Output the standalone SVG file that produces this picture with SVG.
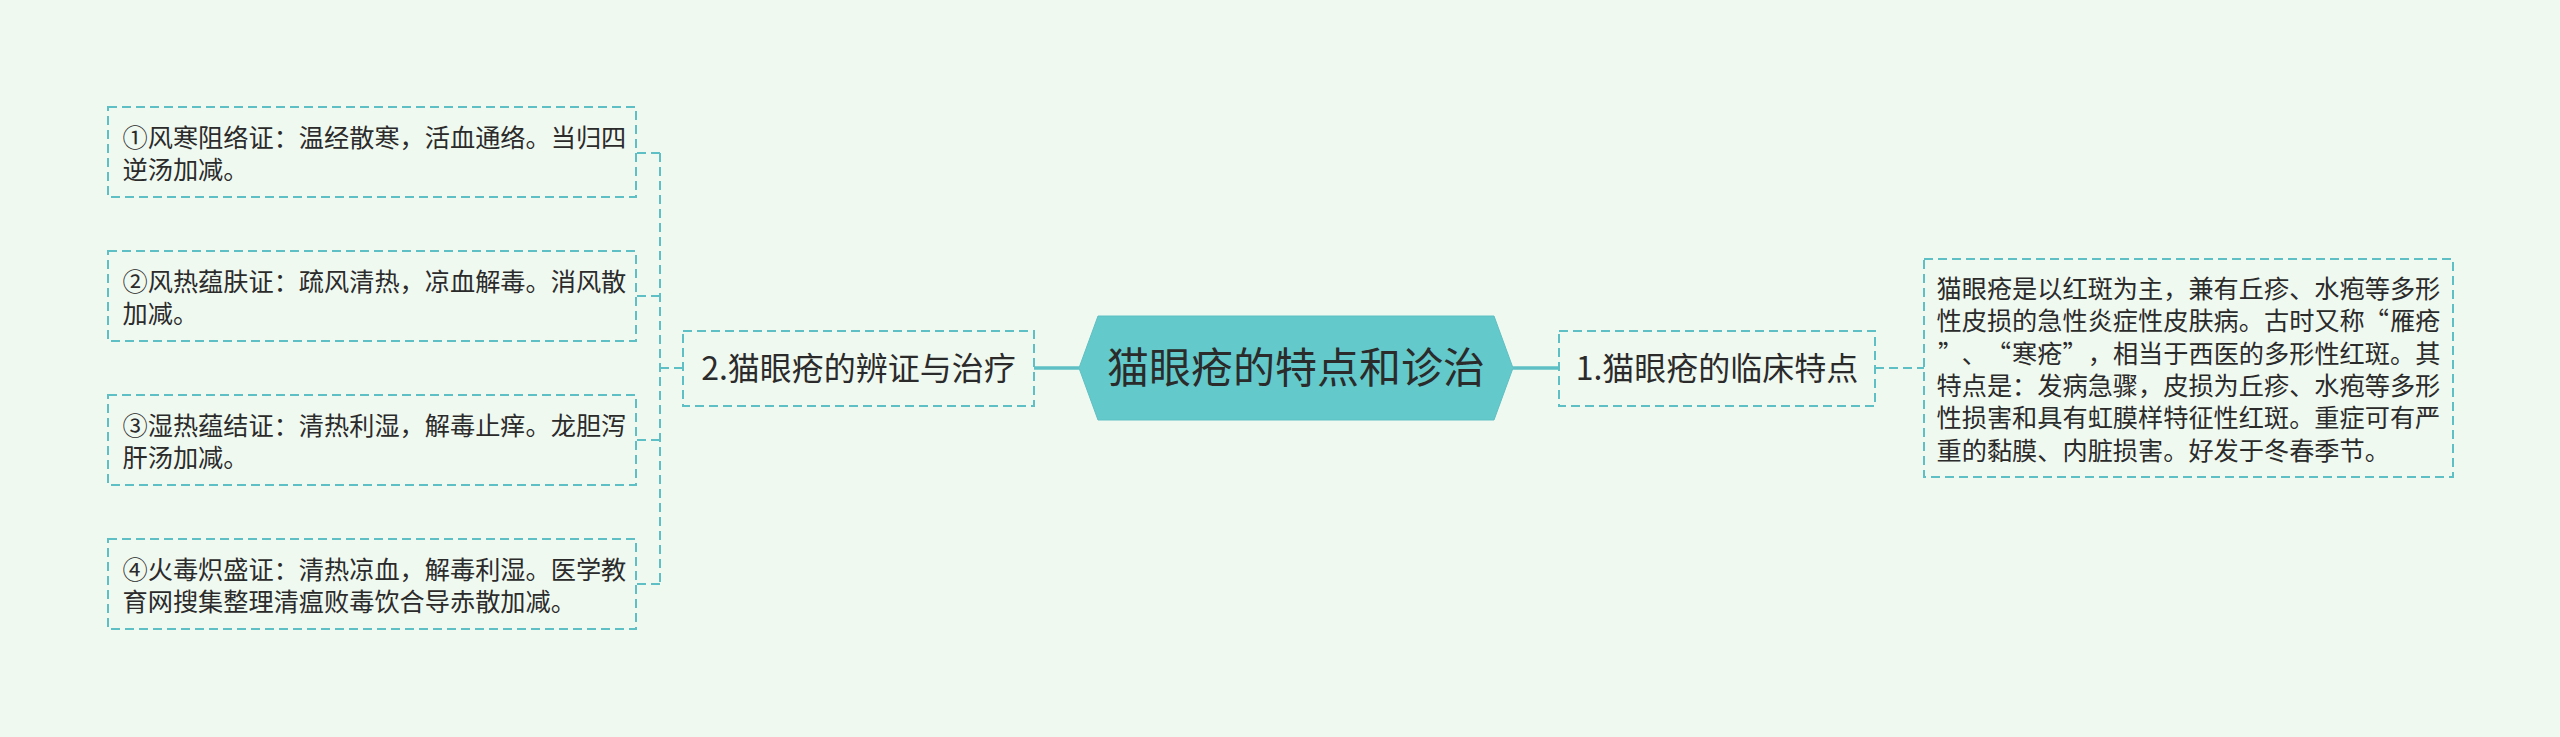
<svg xmlns="http://www.w3.org/2000/svg" width="2560" height="737" viewBox="0 0 2560 737">
<style>
.bg{fill:#f0f9f0}
.box{fill:none;stroke:#5ec0c4;stroke-width:2;stroke-dasharray:9 5}
.dash{fill:none;stroke:#5ec0c4;stroke-width:2;stroke-dasharray:9 5}
.solid{fill:none;stroke:#5ec0c4;stroke-width:3.5}
.t{font-family:"Noto Sans CJK SC","Noto Sans",sans-serif;fill:#2b2b2b}
.s{font-size:25.2px}
.m{font-size:32px}
.l{font-size:42px}
</style>
<rect class="bg" x="0" y="0" width="2560" height="737"/>
<g id="connectors">
<line class="solid" x1="1079" y1="368" x2="1034" y2="368"/>
<line class="solid" x1="1513" y1="368" x2="1559" y2="368"/>
<line class="dash" x1="1875" y1="368" x2="1924" y2="368"/>
<line class="dash" x1="683" y1="368" x2="660" y2="368"/>
<line class="dash" x1="660" y1="153" x2="660" y2="584"/>
<line class="dash" x1="660" y1="153" x2="637" y2="153"/>
<line class="dash" x1="660" y1="296" x2="637" y2="296"/>
<line class="dash" x1="660" y1="440" x2="637" y2="440"/>
<line class="dash" x1="660" y1="584" x2="637" y2="584"/>
</g>
<g id="root">
<polygon points="1079,368 1098,316 1494,316 1513,368 1494,420 1098,420" fill="#63c9ca" stroke="#5ec0c4" stroke-width="1"/>
<text class="t l" x="1296" y="383" text-anchor="middle">猫眼疮的特点和诊治</text>
</g>
<g id="node-2">
<rect class="box" x="683" y="331" width="351" height="75"/>
<text class="t m" x="858.5" y="380" text-anchor="middle">2.猫眼疮的辨证与治疗</text>
</g>
<g id="node-1">
<rect class="box" x="1559" y="331" width="316" height="75"/>
<text class="t m" x="1717" y="380" text-anchor="middle">1.猫眼疮的临床特点</text>
</g>
<g id="node-1-detail">
<rect class="box" x="1924" y="259" width="529" height="218"/>
<text class="t s">
<tspan x="1936.5" y="298">猫眼疮是以红斑为主，兼有丘疹、水疱等多形</tspan>
<tspan x="1936.5" y="330.3">性皮损的急性炎症性皮肤病。古时又称</tspan><tspan x="2389" y="330.3" text-anchor="end">“</tspan><tspan x="2390.1" y="330.3">雁疮</tspan>
<tspan x="1938" y="362.6">”</tspan><tspan x="1961.7" y="362.6">、</tspan><tspan x="2011" y="362.6" text-anchor="end">“</tspan><tspan x="2012.1" y="362.6">寒疮</tspan><tspan x="2062.5" y="362.6">”</tspan><tspan x="2087.7" y="362.6">，相当于西医的多形性红斑。其</tspan>
<tspan x="1936.5" y="394.9">特点是：发病急骤，皮损为丘疹、水疱等多形</tspan>
<tspan x="1936.5" y="427.2">性损害和具有虹膜样特征性红斑。重症可有严</tspan>
<tspan x="1936.5" y="459.5">重的黏膜、内脏损害。好发于冬春季节。</tspan>
</text>
</g>
<g id="node-2-a">
<rect class="box" x="108" y="107" width="528" height="90"/>
<text class="t s"><tspan x="122.5" y="146.5">①风寒阻络证：温经散寒，活血通络。当归四</tspan><tspan x="122.5" y="178.8">逆汤加减。</tspan></text>
</g>
<g id="node-2-b">
<rect class="box" x="108" y="251" width="528" height="90"/>
<text class="t s"><tspan x="122.5" y="290.5">②风热蕴肤证：疏风清热，凉血解毒。消风散</tspan><tspan x="122.5" y="322.8">加减。</tspan></text>
</g>
<g id="node-2-c">
<rect class="box" x="108" y="395" width="528" height="90"/>
<text class="t s"><tspan x="122.5" y="434.5">③湿热蕴结证：清热利湿，解毒止痒。龙胆泻</tspan><tspan x="122.5" y="466.8">肝汤加减。</tspan></text>
</g>
<g id="node-2-d">
<rect class="box" x="108" y="539" width="528" height="90"/>
<text class="t s"><tspan x="122.5" y="578.5">④火毒炽盛证：清热凉血，解毒利湿。医学教</tspan><tspan x="122.5" y="610.8">育网搜集整理清瘟败毒饮合导赤散加减。</tspan></text>
</g>
</svg>
